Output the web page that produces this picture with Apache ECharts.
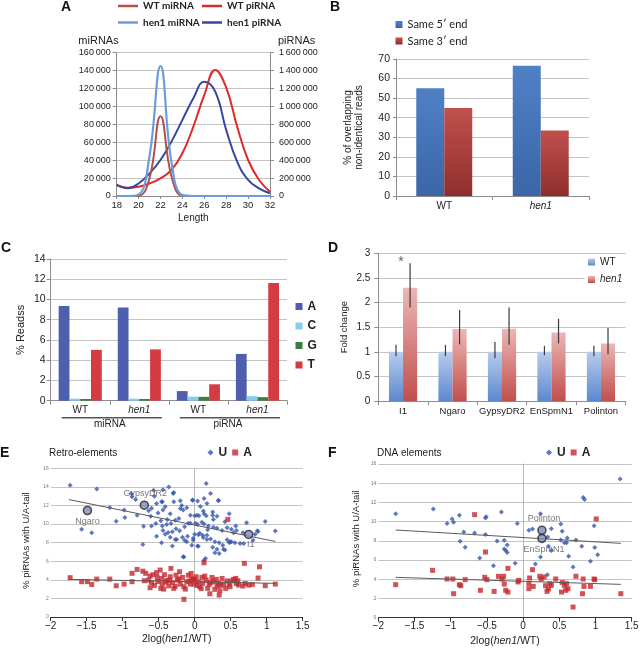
<!DOCTYPE html>
<html><head><meta charset="utf-8">
<script src="https://cdn.jsdelivr.net/npm/echarts@6/dist/echarts.min.js"></script>
<style>html,body{margin:0;padding:0;background:#fff}#c{width:641px;height:649px}</style>
</head><body><div id="c"></div>
<script>
// ---------- Panel A ----------
const A_lengths = [18,19,20,21,22,23,24,25,26,27,28,29,30,31,32];
const A_wtMiRNA = [0,0,300,20000,89000,22000,300,0,0,0,0,0,0,0,0];
const A_hen1MiRNA = [0,0,1500,45000,145000,38000,1000,0,0,0,0,0,0,0,0];
const A_wtPiRNA = [123000,93000,104000,140000,197000,290000,477000,775000,1128000,1408000,1210000,775000,402000,179000,48000];
const A_hen1PiRNA = [123000,86000,140000,253000,402000,607000,850000,1091000,1277000,1166000,737000,384000,179000,86000,30000];
// ---------- Panel B ----------
const B_categories = ['WT','hen1'];
const B_same5 = [55, 66.5];
const B_same3 = [45, 33.5];
// ---------- Panel C ----------
const C_labels = ['WT','hen1','WT','hen1'];
const C_groups = ['miRNA','piRNA'];
const C_A = [9.35, 9.22, 0.95, 4.62];
const C_C = [0.2, 0.2, 0.4, 0.45];
const C_G = [0.17, 0.17, 0.38, 0.35];
const C_T = [5.02, 5.07, 1.62, 11.62];
// ---------- Panel D ----------
const D_categories = ['I1','Ngaro','GypsyDR2','EnSpmN1','Polinton'];
const D_wt = [1,1,1,1,1];
const D_wtLow = [0.91,0.91,0.87,0.93,0.91];
const D_wtHigh = [1.14,1.14,1.2,1.12,1.12];
const D_hen1 = [2.3,1.46,1.47,1.39,1.17];
const D_hen1Low = [1.9,1.15,1.14,1.17,0.95];
const D_hen1High = [2.8,1.85,1.9,1.67,1.49];
const D_significant = ['I1'];
const D_starLevel = [2.87];
// ---------- Panel E (Retro-elements) ----------
const E_U = [
[-1.73,14.18],[-1.36,13.78],[-1.18,11.78],[-0.98,11.5],[-1.09,10.31],[-1.57,9.45],[-1.43,9.06],
[-0.88,13.28],[-0.87,12.93],[-0.82,12.64],[-0.80,10.96],[-0.71,9.77],[-0.72,7.81],[-0.64,11.42],[-0.61,10.85],
[-0.56,13.0],[-0.53,12.2],[-0.51,11.2],[-0.45,12.4],[-0.44,11.5],[-0.41,11.85],[-0.36,14.0],[-0.29,13.4],[-0.29,12.4],
[-0.34,11.1],[-0.38,10.5],[-0.47,10.35],[-0.54,10.06],[-0.60,9.78],[-0.45,9.78],[-0.39,9.96],[-0.33,10.06],[-0.27,10.42],
[-0.22,10.6],[-0.20,11.67],[-0.16,11.5],[-0.11,11.75],[-0.06,10.96],[-0.14,9.7],[-0.26,9.5],[-0.21,9.27],[-0.31,9.17],
[-0.41,8.9],[-0.53,8.7],[-0.34,8.57],[-0.27,8.35],[-0.17,8.57],[-0.11,8.1],[-0.46,7.98],[-0.31,7.63],[-0.15,6.45],
[-0.06,10.1],[-0.02,8.46],
[-0.57,13.64],[-0.44,13.7],[-0.30,13.3],[-0.46,12.4],[-0.60,11.7],[-0.18,12.0],[-0.20,12.5],[-0.03,12.6],
[0.16,14.36],[-0.03,12.56],[0.04,12.49],[0.13,12.75],[0.17,12.2],[0.33,12.56],[0.0,10.9],[0.03,10.95],[0.06,10.9],
[0.13,11.1],[0.16,10.9],[0.25,11.3],[0.25,10.95],[0.31,10.85],[0.48,11.1],[0.01,10.1],[0.04,9.95],
[0.10,10.2],[0.13,10.0],[0.19,9.8],[0.26,9.66],[0.31,9.55],[0.38,9.3],[0.45,9.6],[0.51,9.44],[0.54,9.06],[0.58,9.3],
[0.67,9.06],[0.72,10.13],[0.84,8.9],[0.88,9.2],[0.98,10.27],[1.12,9.26],[0.0,8.9],[0.05,8.85],[0.11,8.8],[0.12,8.56],
[0.17,8.8],[0.22,8.4],[0.28,8.1],[0.34,8.0],[-0.04,7.73],[0.04,7.63],[0.25,7.5],[0.31,7.3],[0.40,7.3],[0.45,8.3],
[0.48,8.0],[0.51,8.1],[0.63,7.9],[0.68,7.9],[0.28,6.9],[0.34,6.84],[0.42,7.2],[0.15,6.3],[0.13,6.1],
[0.22,13.3],[0.33,12.5],[0.12,11.4],[0.08,11.9],[0.42,10.24],[0.57,9.8],[0.26,10.5],[-0.02,8.27],[0.05,7.6],[0.17,8.35],
[0.39,7.73],[0.49,8.1],[0.56,7.98],[0.81,8.27],[0.87,9.27],[-0.16,6.48],[-0.37,9.1],[-0.44,9.3],[-0.25,8.35],[-0.14,8.27],
[-0.10,8.7],[-0.09,10.1],[0.07,9.0],[0.18,9.4],[-0.97,10.7]
];
const E_A = [
[-1.73,4.23],[-1.57,3.8],[-1.49,3.8],[-1.43,3.5],[-1.36,4.08],[-1.18,4.08],[-1.09,3.36],[-0.98,3.54],[-0.87,3.8],[-0.87,4.7],
[-0.80,5.12],[-0.72,4.93],[-0.68,4.7],[-0.62,4.4],[-0.64,3.97],[-0.60,3.69],[-0.62,3.15],[-0.53,4.77],[-0.52,4.26],[-0.51,3.8],
[-0.46,4.15],[-0.45,3.54],[-0.42,4.55],[-0.39,3.92],[-0.36,3.35],[-0.34,4.33],[-0.33,5.23],[-0.31,3.69],[-0.29,3.08],[-0.26,4.5],
[-0.24,3.97],[-0.20,3.54],[-0.21,4.87],[-0.17,4.26],[-0.15,3.26],[-0.11,3.8],[-0.09,4.5],[-0.06,3.54],[-0.04,4.15],[-0.15,1.9],
[-0.47,3.08],[-0.48,5.05],[-0.43,3.0],
[-0.05,4.69],[-0.02,4.04],[0.02,4.33],[-0.01,3.54],[0.05,3.8],[0.07,3.26],[0.11,3.62],[0.13,5.83],[0.16,3.97],[0.18,3.08],
[0.20,3.5],[0.24,4.26],[0.26,3.8],[0.28,2.97],[0.31,3.33],[0.34,2.36],[0.35,2.83],[0.38,4.15],[0.40,3.54],[0.43,3.08],
[0.45,3.88],[0.48,3.54],[0.51,3.88],[0.54,4.04],[0.57,4.15],[0.49,3.26],[0.61,3.43],[0.67,3.33],[0.69,5.77],[0.75,3.43],
[0.90,5.4],[0.88,4.19],[0.98,3.37],[1.12,3.54],[0.46,10.5],[0.21,2.5],[0.10,4.26],[-0.07,3.88],
[-0.56,3.4],[-0.40,3.75],[-0.27,3.3],[-0.13,3.0],[0.09,3.05],[0.22,3.7],[0.33,3.6],[0.30,4.05],[-0.70,3.9],[-0.58,4.55],
[0.0,4.0],[0.14,4.4],[0.36,3.4],[0.58,3.6],[-0.35,3.95],[-0.22,4.1],[0.03,3.4],[0.60,3.9],[0.70,3.6],[0.80,3.5]
];
const E_fitU = [[-1.75,12.64],[1.12,8.13]];
const E_fitA = [[-1.75,4.05],[1.12,3.62]];
const E_marked = [
  {name:'Ngaro', value:[-1.49,11.46]},
  {name:'GypsyDR2', value:[-0.70,12.03]},
  {name:'I1', value:[0.75,8.88]}
];
// ---------- Panel F (DNA elements) ----------
const F_U = [
[-1.76,10.83],[-1.24,11.32],[-1.05,9.8],[-0.98,10.28],[-0.96,9.93],[-0.88,10.66],[-0.82,8.93],[-0.80,7.33],[-0.87,7.95],
[-0.67,8.82],[-0.52,10.38],[-0.51,10.52],[-0.52,8.65],[-0.60,6.22],[-0.41,5.42],[-0.36,7.99],[-0.30,11.0],[-0.26,8.06],
[-0.26,7.15],[-0.24,7.0],[-0.22,6.8],[-0.22,7.57],[-0.08,9.8],[-0.11,5.67],
[0.08,9.10],[0.13,9.24],[0.24,10.83],[0.39,9.27],[0.34,8.4],[0.35,7.43],[0.39,7.0],[0.24,6.32],[0.17,5.6],[0.335,4.48],
[0.52,9.76],[0.54,9.0],[0.52,8.1],[0.57,7.8],[0.60,7.8],[0.61,8.3],[0.63,6.4],[0.73,8.1],[0.69,5.28],[0.83,12.5],[0.85,12.3],
[0.99,7.3],[0.98,9.58],[1.03,6.56],[0.93,5.87],[1.34,14.45],[0.81,7.43]
];
const F_A = [
[-1.76,3.44],[-1.25,4.93],[-1.05,4.03],[-0.97,4.03],[-0.96,2.5],[-0.88,3.44],[-0.86,3.33],[-0.80,3.96],[-0.67,10.73],
[-0.59,2.85],[-0.52,6.84],[-0.53,4.2],[-0.50,3.96],[-0.40,2.74],[-0.34,4.31],[-0.29,4.03],[-0.27,4.31],[-0.26,3.5],
[-0.24,2.85],[-0.21,2.67],[-0.21,5.14],[-0.07,3.72],[-0.06,3.89],[0.08,3.54],[0.08,3.02],[0.13,5.0],[0.14,3.26],[0.09,4.13],
[0.23,4.31],[0.25,4.03],[0.29,4.24],[0.31,3.33],[0.33,2.74],[0.35,2.99],[0.37,3.54],[0.39,3.37],[0.45,4.03],[0.53,2.67],
[0.54,3.68],[0.57,3.37],[0.60,3.54],[0.62,3.02],[0.59,2.85],[0.69,1.11],[0.73,4.31],[0.82,2.5],[0.83,4.03],[0.84,3.26],
[0.93,3.26],[0.98,4.03],[0.99,3.96],[1.01,10.28],[1.35,2.5]
];
const F_fitU = [[-1.76,9.13],[1.35,7.74]];
const F_fitA = [[-1.76,4.2],[1.35,3.47]];
const F_marked = [
  {name:'Polinton', value:[0.26,9.1]},
  {name:'EnSpmN1', value:[0.26,8.26]}
];
const EF_yName = '% piRNAs with U/A-tail';

// ================= chart =================
const FONT = 'Liberation Sans';
const chart = echarts.init(document.getElementById('c'), null, {renderer:'canvas', width:641, height:649});
const G = echarts.graphic;
const grad = (a,b) => new G.LinearGradient(0,0,0,1,[{offset:0,color:a},{offset:1,color:b}]);
const spaced = v => String(v).replace(/\B(?=(\d{3})+(?!\d))/g, '\u2009');
const minus = v => (v < 0 ? '\u2212' : '') + Math.abs(v);
const TXT = '#222';
const GRIDC = '#c4c4c4';
const AX = '#8c8c8c';

function catAxisBase(gi, data, extra) {
  return Object.assign({
    type:'category', gridIndex:gi, data:data,
    axisLine:{show:true, lineStyle:{color:AX}},
    axisTick:{show:true, length:4, lineStyle:{color:AX}},
    axisLabel:{color:TXT, fontSize:10, margin:5, fontFamily:FONT},
    splitLine:{show:false}
  }, extra || {});
}
function valAxisBase(gi, min, max, interval, extra) {
  return Object.assign({
    type:'value', gridIndex:gi, min:min, max:max, interval:interval,
    axisLine:{show:true, lineStyle:{color:AX}},
    axisTick:{show:true, length:4, lineStyle:{color:AX}},
    axisLabel:{color:TXT, fontSize:10, margin:7, fontFamily:FONT, showMinLabel:true, showMaxLabel:true},
    splitLine:{show:true, lineStyle:{color:GRIDC, width:1}}
  }, extra || {});
}

const D_CAT_GAP = 0.43;
function errRender(side) {
  return function (params, api) {
    const ci = api.value(0);
    const lo = api.coord([ci, api.value(1)]);
    const hi = api.coord([ci, api.value(2)]);
    const band = api.size([1, 0])[0];
    const bw = band * (1 - D_CAT_GAP) / 2;
    const x = lo[0] + side * bw / 2;
    return {type:'line', shape:{x1:x, y1:lo[1], x2:x, y2:hi[1]}, style:{stroke:'#3a3a3a', lineWidth:1.2}};
  };
}

const titleStyle = {fontSize:14, fontWeight:'bold', color:'#111', fontFamily:FONT};
const markedSeries = (name, data, labelPos) => ({
  type:'scatter', name:name, data:data.map(d => ({
    name:d.name, value:d.value,
    label:{show:true, formatter:'{b}', position:labelPos[d.name].pos, offset:labelPos[d.name].off || [0,0],
      fontSize:9, color:'#555', fontFamily:FONT, distance:2}
  })),
  symbol:'circle', symbolSize:8, z:5,
  itemStyle:{color:'#7e8db8', borderColor:'#2a2a2a', borderWidth:1.6}
});

const option = {
  animation:false,
  backgroundColor:'#fff',
  textStyle:{fontFamily:FONT},
  title:[
    {text:'A', left:61, top:0, padding:0, textStyle:titleStyle},
    {text:'B', left:330, top:0, padding:0, textStyle:titleStyle},
    {text:'C', left:1, top:241, padding:0, textStyle:titleStyle},
    {text:'D', left:328, top:241, padding:0, textStyle:titleStyle},
    {text:'E', left:0, top:446, padding:0, textStyle:titleStyle},
    {text:'F', left:328, top:446, padding:0, textStyle:titleStyle},
    {text:'Retro-elements', left:49, top:448, padding:0, textStyle:{fontSize:10, fontWeight:'normal', color:TXT, fontFamily:FONT}},
    {text:'DNA elements', left:377, top:448, padding:0, textStyle:{fontSize:10, fontWeight:'normal', color:TXT, fontFamily:FONT}}
  ],
  legend:[
    {data:['WT miRNA','hen1 miRNA'], orient:'vertical', left:118, top:1, padding:0, itemGap:6.5,
     icon:'rect', itemWidth:20, itemHeight:2.5, textStyle:{fontSize:10, fontFamily:'Lato', fontWeight:'bold', color:TXT}},
    {data:['WT piRNA','hen1 piRNA'], orient:'vertical', left:202, top:1, padding:0, itemGap:6.5,
     icon:'rect', itemWidth:20, itemHeight:2.5, textStyle:{fontSize:10, fontFamily:'Lato', fontWeight:'bold', color:TXT}},
    {data:['Same 5\u2032 end','Same 3\u2032 end'], orient:'vertical', left:395.5, top:19, padding:0, itemGap:5.5,
     icon:'rect', itemWidth:7, itemHeight:7, textStyle:{fontSize:11, fontFamily:'Lato', color:TXT}},
    {data:['A','C','G','T'], orient:'vertical', left:295.5, top:300.5, padding:0, itemGap:7.5,
     icon:'rect', itemWidth:7, itemHeight:7, textStyle:{fontSize:12, fontWeight:'bold', color:TXT, fontFamily:FONT}},
    {data:['WT','hen1'], orient:'vertical', left:585, top:254, padding:[3,6,3,3], itemGap:7.5, backgroundColor:'#fff',
     icon:'rect', itemWidth:7, itemHeight:7,
     formatter: n => n === 'hen1' ? '{i|hen1}' : n,
     textStyle:{fontSize:10, color:TXT, fontFamily:FONT, rich:{i:{fontStyle:'italic', fontSize:10, color:TXT, fontFamily:FONT}}}},
    {data:[{name:'U', icon:'diamond'},{name:'A-tail', icon:'rect'}], orient:'horizontal', left:207.5, top:446.5, padding:0, itemGap:5,
     itemWidth:6, itemHeight:6, formatter: n => n === 'A-tail' ? 'A' : n,
     textStyle:{fontSize:12, fontWeight:'bold', color:TXT, fontFamily:FONT}},
    {data:[{name:'U', icon:'diamond'},{name:'A-tail', icon:'rect'}], orient:'horizontal', left:546, top:446.5, padding:0, itemGap:5,
     itemWidth:6, itemHeight:6, formatter: n => n === 'A-tail' ? 'A' : n,
     textStyle:{fontSize:12, fontWeight:'bold', color:TXT, fontFamily:FONT}}
  ],
  grid:[
    {left:116.7, top:52.7, width:153.3, height:143.3, outerBoundsMode:'none'},
    {left:396, top:59, width:193, height:137, outerBoundsMode:'none'},
    {left:50.7, top:259, width:236.3, height:141.7, outerBoundsMode:'none'},
    {left:378.3, top:253.3, width:247.4, height:147.7, outerBoundsMode:'none'},
    {left:50.7, top:468.3, width:252, height:148.7, outerBoundsMode:'none'},
    {left:378.3, top:464, width:253.4, height:153.7, outerBoundsMode:'none'}
  ],
  xAxis:[
    // 0: A
    {type:'value', gridIndex:0, min:18, max:32, interval:2,
     axisLine:{show:true, lineStyle:{color:AX}}, axisTick:{show:true, length:3, lineStyle:{color:AX}},
     axisLabel:{color:TXT, fontSize:9.5, margin:4, showMinLabel:true, showMaxLabel:true},
     splitLine:{show:false},
     name:'Length', nameLocation:'middle', nameGap:17, nameTextStyle:{fontSize:10, color:TXT}},
    // 1: B
    catAxisBase(1, B_categories, {axisLabel:{color:TXT, fontSize:10, margin:5,
      formatter: v => v === 'hen1' ? '{i|hen1}' : v, rich:{i:{fontStyle:'italic', fontSize:10, color:TXT}}}}),
    // 2: C samples
    catAxisBase(2, C_labels.map((l,i) => l + '#' + i), {axisLabel:{color:TXT, fontSize:10, margin:5,
      formatter: (v, i) => C_labels[i] === 'hen1' ? '{i|hen1}' : C_labels[i], rich:{i:{fontStyle:'italic', fontSize:10, color:TXT}}}}),
    // 3: C groups
    {type:'category', gridIndex:2, data:C_groups, position:'bottom', offset:17,
     axisLine:{show:false, onZero:false}, axisTick:{show:false}, splitLine:{show:false},
     axisLabel:{color:TXT, fontSize:10, margin:2}},
    // 4: D
    catAxisBase(3, D_categories, {axisLabel:{color:TXT, fontSize:9.5, margin:5, interval:0}}),
    // 5: E
    {type:'value', gridIndex:4, min:-2, max:1.5, interval:0.5,
     axisLine:{show:true, lineStyle:{color:'#333'}}, axisTick:{show:true, length:4, lineStyle:{color:'#333'}},
     axisLabel:{color:TXT, fontSize:10, margin:4, formatter:minus, showMinLabel:true, showMaxLabel:true},
     splitLine:{show:false},
     name:'2log({i|hen1}/WT)', nameLocation:'middle', nameGap:17,
     nameTextStyle:{fontSize:10.5, color:TXT, rich:{i:{fontStyle:'italic', fontSize:10.5, color:TXT}}}},
    // 6: F
    {type:'value', gridIndex:5, min:-2, max:1.5, interval:0.5,
     axisLine:{show:true, lineStyle:{color:'#333'}}, axisTick:{show:true, length:4, lineStyle:{color:'#333'}},
     axisLabel:{color:TXT, fontSize:10, margin:4, formatter:minus, showMinLabel:true, showMaxLabel:true},
     splitLine:{show:false},
     name:'2log({i|hen1}/WT)', nameLocation:'middle', nameGap:18,
     nameTextStyle:{fontSize:10.5, color:TXT, rich:{i:{fontStyle:'italic', fontSize:10.5, color:TXT}}}}
  ],
  yAxis:[
    // 0: A left
    valAxisBase(0, 0, 160000, 20000, {axisLabel:{color:TXT, fontSize:9, margin:6, formatter:spaced, showMinLabel:true, showMaxLabel:true},
      name:'miRNAs', nameLocation:'end', nameGap:6, nameTextStyle:{fontSize:11, color:TXT, align:'right', padding:[0,-2,0,0]}}),
    // 1: A right
    valAxisBase(0, 0, 1600000, 200000, {position:'right', splitLine:{show:false},
      axisLabel:{color:TXT, fontSize:9, margin:9, formatter:spaced, showMinLabel:true, showMaxLabel:true},
      name:'piRNAs', nameLocation:'end', nameGap:6, nameTextStyle:{fontSize:11, color:TXT, align:'left', padding:[0,0,0,8]}}),
    // 2: B
    valAxisBase(1, 0, 70, 10, {axisTick:{show:true, length:3, lineStyle:{color:AX}},
      axisLabel:{color:TXT, fontSize:10.5, margin:6, showMinLabel:true, showMaxLabel:true},
      name:'% of overlapping\nnon-identical reads', nameLocation:'middle', nameGap:31,
      nameTextStyle:{fontSize:10, color:TXT, lineHeight:11, align:'center'}}),
    // 3: C
    valAxisBase(2, 0, 14, 2, {axisLabel:{color:TXT, fontSize:10.5, margin:5, showMinLabel:true, showMaxLabel:true},
      name:'% Readss', nameLocation:'middle', nameGap:24, nameTextStyle:{fontSize:11, color:TXT}}),
    // 4: D
    valAxisBase(3, 0, 3, 0.5, {axisLabel:{color:TXT, fontSize:10, margin:8, showMinLabel:true, showMaxLabel:true},
      name:'Fold change', nameLocation:'middle', nameGap:29, nameTextStyle:{fontSize:9.5, color:TXT}}),
    // 5: E (axis line on x = 0)
    {type:'value', gridIndex:4, min:0, max:16, interval:2,
     axisLine:{show:true, onZero:true, lineStyle:{color:'#b8b8b8'}}, axisTick:{show:false},
     axisLabel:{color:'#777', fontSize:5, margin:2, showMinLabel:true, showMaxLabel:true},
     splitLine:{show:true, lineStyle:{color:GRIDC}}},
    // 6: F
    {type:'value', gridIndex:5, min:0, max:16, interval:2,
     axisLine:{show:true, onZero:true, lineStyle:{color:'#b8b8b8'}}, axisTick:{show:false},
     axisLabel:{color:'#777', fontSize:5, margin:2, showMinLabel:true, showMaxLabel:true},
     splitLine:{show:true, lineStyle:{color:GRIDC}}}
  ],
  series:[
    // ---- A ----
    {type:'line', name:'WT piRNA', xAxisIndex:0, yAxisIndex:1, data:A_lengths.map((x,i)=>[x,A_wtPiRNA[i]]),
     smooth:0.45, showSymbol:false, lineStyle:{color:'#dd2a2a', width:2}, itemStyle:{color:'#dd2a2a'}},
    {type:'line', name:'hen1 piRNA', xAxisIndex:0, yAxisIndex:1, data:A_lengths.map((x,i)=>[x,A_hen1PiRNA[i]]),
     smooth:0.45, showSymbol:false, lineStyle:{color:'#3447a3', width:2}, itemStyle:{color:'#3447a3'}},
    {type:'line', name:'WT miRNA', xAxisIndex:0, yAxisIndex:0, data:A_lengths.map((x,i)=>[x,A_wtMiRNA[i]]),
     smooth:0.45, showSymbol:false, lineStyle:{color:'#b3504c', width:2}, itemStyle:{color:'#b3504c'}},
    {type:'line', name:'hen1 miRNA', xAxisIndex:0, yAxisIndex:0, data:A_lengths.map((x,i)=>[x,A_hen1MiRNA[i]]),
     smooth:0.45, showSymbol:false, lineStyle:{color:'#6c9ddb', width:2.2}, itemStyle:{color:'#6c9ddb'}},
    // ---- B ----
    {type:'bar', name:'Same 5\u2032 end', xAxisIndex:1, yAxisIndex:2, data:B_same5, barGap:'0%', barCategoryGap:'42%',
     itemStyle:{color:grad('#4f80c6','#3b66a8')}},
    {type:'bar', name:'Same 3\u2032 end', xAxisIndex:1, yAxisIndex:2, data:B_same3, barGap:'0%', barCategoryGap:'42%',
     itemStyle:{color:grad('#c0504d','#8e2f2d')}},
    // ---- C ----
    {type:'bar', name:'A', xAxisIndex:2, yAxisIndex:3, data:C_A, barGap:'0%', barCategoryGap:'27%', itemStyle:{color:'#4e5fae'}},
    {type:'bar', name:'C', xAxisIndex:2, yAxisIndex:3, data:C_C, barGap:'0%', barCategoryGap:'27%', itemStyle:{color:'#86cdf2'}},
    {type:'bar', name:'G', xAxisIndex:2, yAxisIndex:3, data:C_G, barGap:'0%', barCategoryGap:'27%', itemStyle:{color:'#3b7e3d'}},
    {type:'bar', name:'T', xAxisIndex:2, yAxisIndex:3, data:C_T, barGap:'0%', barCategoryGap:'27%', itemStyle:{color:'#d33c42'}},
    // ---- D ----
    {type:'bar', name:'WT', xAxisIndex:4, yAxisIndex:4, data:D_wt, barGap:'0%', barCategoryGap:(D_CAT_GAP*100)+'%',
     itemStyle:{color:grad('#b8cced','#5c88cf')}},
    {type:'bar', name:'hen1', xAxisIndex:4, yAxisIndex:4, data:D_hen1, barGap:'0%', barCategoryGap:(D_CAT_GAP*100)+'%',
     itemStyle:{color:grad('#ecb6b4','#c14f4c')}},
    {type:'custom', name:'WT err', xAxisIndex:4, yAxisIndex:4, renderItem:errRender(-1), z:4,
     encode:{x:0, y:[1,2]}, data:D_categories.map((c,i)=>[i, D_wtLow[i], D_wtHigh[i]])},
    {type:'custom', name:'hen1 err', xAxisIndex:4, yAxisIndex:4, renderItem:errRender(1), z:4,
     encode:{x:0, y:[1,2]}, data:D_categories.map((c,i)=>[i, D_hen1Low[i], D_hen1High[i]])},
    {type:'scatter', name:'signif', xAxisIndex:4, yAxisIndex:4, symbolSize:1, itemStyle:{color:'rgba(0,0,0,0)'},
     data:D_significant.map((c,i)=>[c, D_starLevel[i]]),
     label:{show:true, formatter:'*', position:'inside', offset:[-2,2], fontSize:14, color:'#333'}},
    // ---- E ----
    {type:'scatter', name:'U', xAxisIndex:5, yAxisIndex:5, data:E_U, symbol:'diamond', symbolSize:5,
     itemStyle:{color:'#3656ad'}},
    {type:'scatter', name:'A-tail', xAxisIndex:5, yAxisIndex:5, data:E_A, symbol:'rect', symbolSize:5,
     itemStyle:{color:'#c4282d'}},
    {type:'line', name:'E fit U', xAxisIndex:5, yAxisIndex:5, data:E_fitU, showSymbol:false, symbol:'none',
     lineStyle:{color:'#5a5a5a', width:1}},
    {type:'line', name:'E fit A', xAxisIndex:5, yAxisIndex:5, data:E_fitA, showSymbol:false, symbol:'none',
     lineStyle:{color:'#5a5a5a', width:1}},
    Object.assign(markedSeries('E marked', E_marked, {
      'Ngaro':{pos:'bottom'}, 'GypsyDR2':{pos:'top', off:[1,0]}, 'I1':{pos:'bottom', off:[2,-1]}
    }), {xAxisIndex:5, yAxisIndex:5}),
    // ---- F ----
    {type:'scatter', name:'U', xAxisIndex:6, yAxisIndex:6, data:F_U, symbol:'diamond', symbolSize:5,
     itemStyle:{color:'#3656ad'}},
    {type:'scatter', name:'A-tail', xAxisIndex:6, yAxisIndex:6, data:F_A, symbol:'rect', symbolSize:5,
     itemStyle:{color:'#c4282d'}},
    {type:'line', name:'F fit U', xAxisIndex:6, yAxisIndex:6, data:F_fitU, showSymbol:false, symbol:'none',
     lineStyle:{color:'#5a5a5a', width:1}},
    {type:'line', name:'F fit A', xAxisIndex:6, yAxisIndex:6, data:F_fitA, showSymbol:false, symbol:'none',
     lineStyle:{color:'#5a5a5a', width:1}},
    Object.assign(markedSeries('F marked', F_marked, {
      'Polinton':{pos:'top', off:[2,0]}, 'EnSpmN1':{pos:'bottom', off:[2,0]}
    }), {xAxisIndex:6, yAxisIndex:6})
  ]
};
chart.setOption(option);

// Decorations derived from the axes: group underlines (panel C) and y-axis titles (panels E, F)
const cx0 = chart.convertToPixel({xAxisIndex:2}, 0);
const cx1 = chart.convertToPixel({xAxisIndex:2}, 1);
const cw = cx1 - cx0;
const yBase = chart.convertToPixel({yAxisIndex:3}, 0) + 17;
const deco = [];
for (let g = 0; g < C_groups.length; g++) {
  const start = cx0 + (2*g) * cw - cw/2;
  const end = start + 2*cw;
  deco.push({type:'line', shape:{x1:start + 11, y1:yBase, x2:end - 7, y2:yBase},
             style:{stroke:'#555', lineWidth:1.5}});
}
[[5, 5, 24], [6, 6, 22]].forEach(([xi, yi, gap]) => {
  const left = chart.convertToPixel({xAxisIndex:xi}, -2);
  const yMid = (chart.convertToPixel({yAxisIndex:yi}, 0) + chart.convertToPixel({yAxisIndex:yi}, 16)) / 2 - 2;
  deco.push({type:'text', x:left - gap, y:yMid, rotation:Math.PI/2,
             style:{text:EF_yName, fontSize:9.5, fontFamily:FONT, fill:TXT, align:'center', verticalAlign:'middle'}});
});
chart.setOption({graphic: deco});
</script>
</body></html>
